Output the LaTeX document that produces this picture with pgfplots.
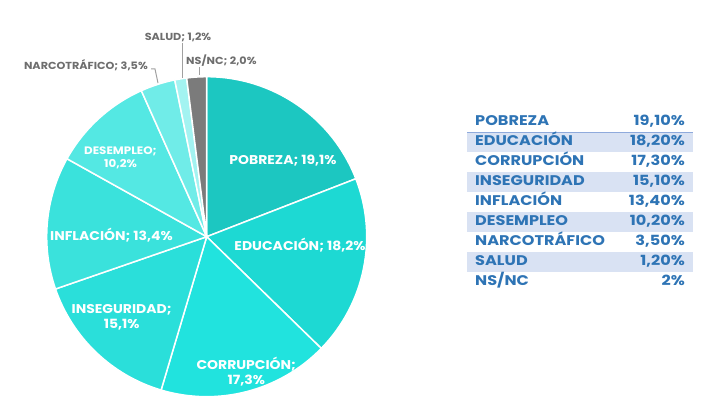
\documentclass[border=0pt]{standalone}
\usepackage{pgfplots}
\pgfplotsset{compat=1.18}
\usepackage{pgfplotstable}
\usepackage{fontspec}
\setmainfont{Poppins}
\newfontfamily\wideA[FakeStretch=1.1]{Poppins}
\newfontfamily\wideB[FakeStretch=1.15]{Poppins}
\definecolor{cA}{HTML}{1CC7C1}
\definecolor{cB}{HTML}{1DD9D3}
\definecolor{cC}{HTML}{21E3DE}
\definecolor{cD}{HTML}{2ADFDA}
\definecolor{cE}{HTML}{3AE2DC}
\definecolor{cF}{HTML}{54E8E3}
\definecolor{cG}{HTML}{70ECE8}
\definecolor{cH}{HTML}{A3F3F1}
\definecolor{cI}{HTML}{7B7B7B}
\definecolor{tblue}{HTML}{2E74B5}
\definecolor{band}{HTML}{D9E2F3}
\definecolor{bline}{HTML}{8FAADC}
\definecolor{lgray}{HTML}{6E6E6E}
\definecolor{leader}{HTML}{A0A0A0}

\pgfplotstableread[col sep=comma]{
label,value,color
POBREZA,19.1,cA
EDUCACION,18.2,cB
CORRUPCION,17.3,cC
INSEGURIDAD,15.1,cD
INFLACION,13.4,cE
DESEMPLEO,10.2,cF
NARCOTRAFICO,3.5,cG
SALUD,1.2,cH
NSNC,2.0,cI
}\piedata
\pgfplotstablecreatecol[create col/expr accum={\pgfmathaccuma + \thisrow{value}}{0}]{cum}\piedata

\newcommand{\cx}{206.7}
\newcommand{\cy}{159.3}
\newcommand{\rr}{160}

\begin{document}
\begin{tikzpicture}
\begin{axis}[width=709pt, height=396pt, scale only axis,
  xmin=0, xmax=709, ymin=0, ymax=396, hide axis, clip=false]
\path (axis cs:0,0) rectangle (axis cs:709,396);
\pgfplotsinvokeforeach{0,...,8}{
  \pgfplotstablegetelem{#1}{cum}\of\piedata
  \pgfmathsetmacro\angb{90-3.6*\pgfplotsretval}
  \pgfplotstablegetelem{#1}{value}\of\piedata
  \pgfmathsetmacro\anga{\angb+3.6*\pgfplotsretval}
  \pgfplotstablegetelem{#1}{color}\of\piedata
  \let\slicecol\pgfplotsretval
  \pgfmathsetmacro\xa{\cx+\rr*cos(\anga)}
  \pgfmathsetmacro\ya{\cy+\rr*sin(\anga)}
  \edef\temp{\noexpand\filldraw[fill=\slicecol, draw=white, line width=1.5pt, line join=round]
    (axis cs:\cx,\cy) -- (axis cs:\xa,\ya) arc[start angle=\anga, end angle=\angb, radius=\rr pt] -- cycle;}
  \temp
}
% inside labels
\begin{scope}[every node/.style={text=white, font=\wideA\bfseries\fontsize{12.7}{16}\selectfont, inner sep=0pt, anchor=base}]
\node at (axis cs:283,231) {POBREZA; 19,1\%};
\node at (axis cs:300,145.3) {EDUCACIÓN; 18,2\%};
\node at (axis cs:246.3,27) {CORRUPCIÓN;};
\node at (axis cs:246.3,11.7) {17,3\%};
\node at (axis cs:121.7,82.7) {INSEGURIDAD;};
\node at (axis cs:121.7,67.7) {15,1\%};
\node at (axis cs:111.5,155) {INFLACIÓN; 13,4\%};
\node[font=\wideA\bfseries\fontsize{10.8}{14}\selectfont] at (axis cs:120.5,241) {DESEMPLEO;};
\node[font=\wideA\bfseries\fontsize{10.8}{14}\selectfont] at (axis cs:120.5,228.3) {10,2\%};
\end{scope}
% outside labels
\begin{scope}[every node/.style={text=lgray, font=\wideA\bfseries\fontsize{10.2}{12}\selectfont, inner sep=0pt}]
\node[anchor=base east] at (axis cs:148,326.7) {NARCOTRÁFICO; 3,5\%};
\node[anchor=base] at (axis cs:178,355.3) {SALUD; 1,2\%};
\node[anchor=base west] at (axis cs:186,331) {NS/NC; 2,0\%};
\end{scope}
\draw[leader, line width=1pt] (axis cs:151,327) -- (axis cs:155,327) -- (axis cs:158,313);
\draw[leader, line width=1pt] (axis cs:182.7,353) -- (axis cs:182.7,318);
\draw[leader, line width=1pt] (axis cs:199,329) -- (axis cs:199,321);
% table
\fill[band] (axis cs:467,263.7) rectangle (axis cs:693,243.7);
\fill[band] (axis cs:467,223.7) rectangle (axis cs:693,203.7);
\fill[band] (axis cs:467,183.7) rectangle (axis cs:693,163.7);
\fill[band] (axis cs:467,143.7) rectangle (axis cs:693,123.7);
\draw[bline, line width=1pt] (axis cs:467,263.7) -- (axis cs:693,263.7);
\begin{scope}[every node/.style={text=tblue, font=\wideB\bfseries\fontsize{14}{16}\selectfont, inner sep=0pt}]
\node[anchor=base west] at (axis cs:475,270) {POBREZA};
\node[anchor=base west] at (axis cs:475,250) {EDUCACIÓN};
\node[anchor=base west] at (axis cs:475,230) {CORRUPCIÓN};
\node[anchor=base west] at (axis cs:475,210) {INSEGURIDAD};
\node[anchor=base west] at (axis cs:475,190) {INFLACIÓN};
\node[anchor=base west] at (axis cs:475,170) {DESEMPLEO};
\node[anchor=base west] at (axis cs:475,150) {NARCOTRÁFICO};
\node[anchor=base west] at (axis cs:475,130) {SALUD};
\node[anchor=base west] at (axis cs:475,110) {NS/NC};
\node[anchor=base east] at (axis cs:685,270) {19,10\%};
\node[anchor=base east] at (axis cs:685,250) {18,20\%};
\node[anchor=base east] at (axis cs:685,230) {17,30\%};
\node[anchor=base east] at (axis cs:685,210) {15,10\%};
\node[anchor=base east] at (axis cs:685,190) {13,40\%};
\node[anchor=base east] at (axis cs:685,170) {10,20\%};
\node[anchor=base east] at (axis cs:685,150) {3,50\%};
\node[anchor=base east] at (axis cs:685,130) {1,20\%};
\node[anchor=base east] at (axis cs:685,110) {2\%};
\end{scope}
\end{axis}
\end{tikzpicture}
\end{document}
